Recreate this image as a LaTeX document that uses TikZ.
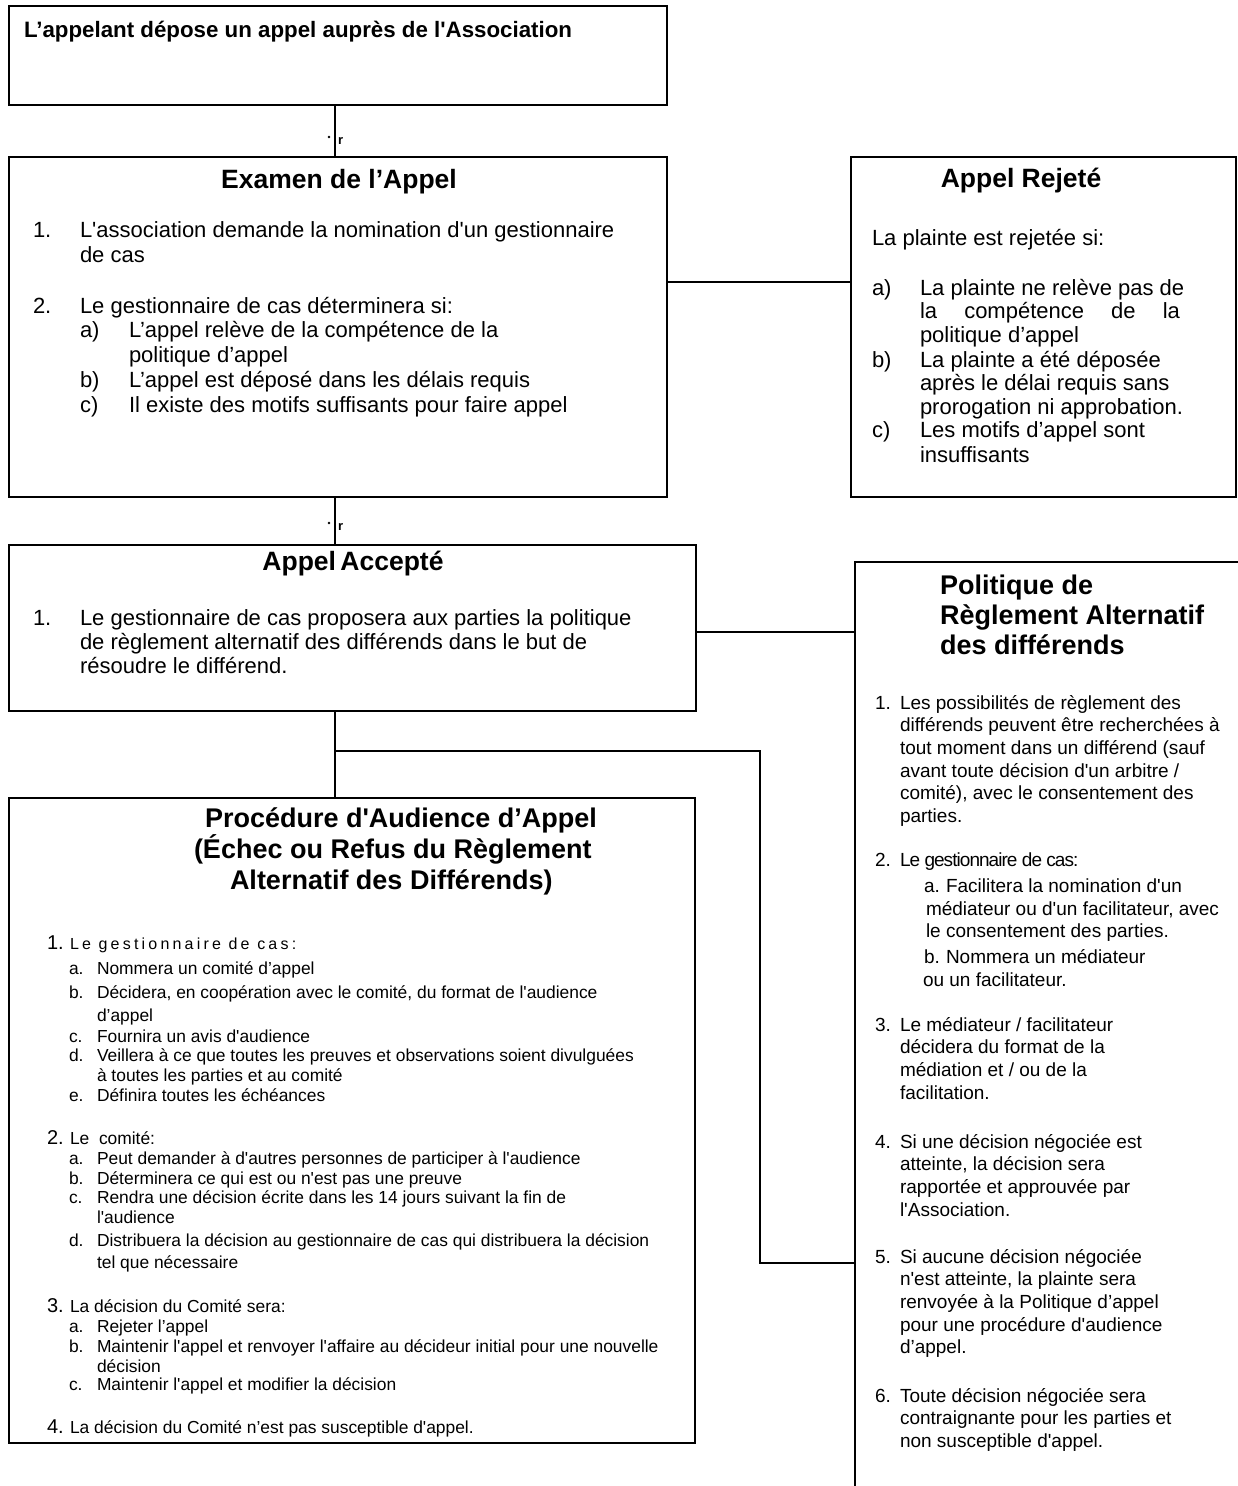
\documentclass[tikz,border=0pt]{standalone}
\usepackage{fontspec}
\newfontfamily\arial{Liberation Sans}
\newfontfamily\arialsp[LetterSpace=20]{Liberation Sans}
\newfontfamily\arialtt[LetterSpace=-5]{Liberation Sans}
\newcommand\fsz[2]{\fontsize{#1}{#2}\selectfont}
\newcommand\ml[1]{\begin{tabular}[t]{@{}l@{}}#1\end{tabular}}
\usetikzlibrary{calc}
\begin{document}
\begin{tikzpicture}[x=1pt,y=-1pt,
  box/.style={draw, inner sep=0pt, outer sep=0pt, anchor=north west, line width=2pt},
  heavy/.style={line width=2.6pt},
  link/.style={line width=2.3pt},
  tx/.style={anchor=base west, inner sep=0pt, outer sep=0pt},
  tc/.style={anchor=base, inner sep=0pt, outer sep=0pt},
  hd/.style={font=\arial\bfseries\fsz{26.5}{30}},
  hdb/.style={font=\arial\bfseries\fsz{27}{30}},
  bA/.style={font=\arial\fsz{22}{25}},
  bB/.style={font=\arial\fsz{22}{23.5}},
  bC/.style={font=\arial\fsz{22}{24}},
  bR/.style={font=\arial\fsz{19}{22.7}},
  bS/.style={font=\arial\fsz{17.4}{20}},
  nS/.style={font=\arial\fsz{20}{20}}]
\fill[white] (0,0) rectangle (1238,1486);
\useasboundingbox (0,0) rectangle (1238,1486);
\clip (0,0) rectangle (1238,1486);

% ---------- boxes ----------
\node[box, minimum width=658pt, minimum height=99pt] (b1) at (9,6) {};
\node[box, minimum width=658pt, minimum height=340pt] (b2) at (9,157) {};
\node[box, minimum width=385pt, minimum height=340pt] (b3) at (851,157) {};
\node[box, heavy, minimum width=687pt, minimum height=166pt] (b4) at (9,545) {};
\node[box, minimum width=420pt, minimum height=1000pt] (b5) at (855,562) {};
\node[box, heavy, minimum width=686pt, minimum height=645pt] (b6) at (9,798) {};

% ---------- connectors ----------
\coordinate (spine) at (335,0);
\coordinate (h1) at (0,282);
\coordinate (h2) at (0,632);
\coordinate (j) at (335,751);
\coordinate (bend) at (760,1263);
\draw[link] (b1.south -| spine) -- (b2.north -| spine);
\draw[link] (b2.south -| spine) -- (b4.north -| spine);
\draw[link] (b4.south -| spine) -- (b6.north -| spine);
\draw[link] (b2.east |- h1) -- (b3.west |- h1);
\draw[link] (b4.east |- h2) -- (b5.west |- h2);
\draw[link] (j) -| (bend) -- (b5.west |- bend);

% small marks
\fill (329,137) circle (1.3);
\node[tx, font=\arial\bfseries\fsz{13}{13}] (m1) at (338,144) {r};
\fill (329,523) circle (1.3);
\node[tx, font=\arial\bfseries\fsz{13}{13}] (m2) at (338,530) {r};

% ---------- box 1 ----------
\node[tx, font=\arial\bfseries\fsz{22.3}{26}] (t1) at (24,37) {L’appelant dépose un appel auprès de l'Association};

% ---------- box 2 ----------
\node[tc, hd] (t2h) at (339,188) {Examen de l’Appel};
\node[tx, bA] (t2n1) at (33,237) {1.};
\node[tx, bA] (t2i1) at (80,237) {\ml{L'association demande la nomination d'un gestionnaire\\de cas}};
\node[tx, bA] (t2n2) at (33,313) {2.};
\node[tx, bA] (t2i2) at (80,313) {Le gestionnaire de cas déterminera si:};
\node[tx, bA] (t2la) at (80,337) {a)};
\node[tx, bA] (t2a) at (129,337) {\ml{L’appel relève de la compétence de la\\politique d’appel}};
\node[tx, bA] (t2lb) at (80,387) {b)};
\node[tx, bA] (t2b) at (129,387) {L’appel est déposé dans les délais requis};
\node[tx, bA] (t2lc) at (80,412) {c)};
\node[tx, bA] (t2c) at (129,412) {Il existe des motifs suffisants pour faire appel};

% ---------- box 3 ----------
\node[tc, hd] (t3h) at (1021,187) {Appel Rejeté};
\node[tx, bA] (t3i) at (872,245) {La plainte est rejetée si:};
\node[tx, bB] (t3la) at (872,295) {a)};
\node[tx, bB] (t3a) at (920,295) {\ml{La plainte ne relève pas de\\\hbox to 260pt{la\hfill compétence\hfill de\hfill la}\\politique d’appel}};
\node[tx, bB] (t3lb) at (872,367) {b)};
\node[tx, bB] (t3b) at (920,367) {\ml{La plainte a été déposée\\après le délai requis sans\\prorogation ni approbation.}};
\node[tx, bB] (t3lc) at (872,437) {c)};
\node[tx, bA] (t3c) at (920,437) {\ml{Les motifs d’appel sont\\insuffisants}};

% ---------- box 4 ----------
\node[tc, hd] (t4h) at (353,570) {Appel\hspace{-3pt} Accepté};
\node[tx, bC] (t4n) at (33,625) {1.};
\node[tx, bC] (t4i) at (80,625) {\ml{Le gestionnaire de cas proposera aux parties la politique\\de règlement alternatif des différends dans le but de\\résoudre le différend.}};

% ---------- box 5 ----------
\node[tx, hdb] (t5h) at (940,594) {\ml{Politique de\\Règlement Alternatif\\des différends}};
\node[tx, bR] (t5n1) at (875,709) {1.};
\node[tx, bR] (t5i1) at (900,709) {\ml{Les possibilités de règlement des\\différends peuvent être recherchées à\\tout moment dans un différend (sauf\\avant toute décision d'un arbitre /\\comité), avec le consentement des\\parties.}};
\node[tx, bR] (t5n2) at (875,866) {2.};
\node[tx, font=\arialtt\fsz{19}{22}] (t5i2) at (900,866) {Le gestionnaire de cas:};
\node[tx, bR] (t5la) at (924,892) {a.};
\node[tx, bR] (t5a1) at (946,892) {Facilitera la nomination d'un};
\node[tx, bR] (t5a2) at (926,915) {\ml{médiateur ou d'un facilitateur, avec\\le consentement des parties.}};
\node[tx, bR] (t5lb) at (924,963) {b.};
\node[tx, bR] (t5b1) at (946,963) {Nommera un médiateur};
\node[tx, bR] (t5b2) at (923,986) {ou un facilitateur.};
\node[tx, bR] (t5n3) at (875,1031) {3.};
\node[tx, bR] (t5i3) at (900,1031) {\ml{Le médiateur / facilitateur\\décidera du format de la\\médiation et / ou de la\\facilitation.}};
\node[tx, bR] (t5n4) at (875,1148) {4.};
\node[tx, bR] (t5i4) at (900,1148) {\ml{Si une décision négociée est\\atteinte, la décision sera\\rapportée et approuvée par\\l'Association.}};
\node[tx, bR] (t5n5) at (875,1263) {5.};
\node[tx, bR] (t5i5) at (900,1263) {\ml{Si aucune décision négociée\\n'est atteinte, la plainte sera\\renvoyée à la Politique d’appel\\pour une procédure d'audience\\d’appel.}};
\node[tx, bR] (t5n6) at (875,1402) {6.};
\node[tx, bR] (t5i6) at (900,1402) {\ml{Toute décision négociée sera\\contraignante pour les parties et\\non susceptible d'appel.}};

% ---------- box 6 ----------
\node[tx, hdb] (t6h1) at (205,827) {Procédure d'Audience d’Appel};
\node[tx, hdb] (t6h2) at (194,858) {(Échec ou Refus du Règlement};
\node[tx, hdb] (t6h3) at (230,889) {Alternatif des Différends)};

\node[tx, nS] (t6n1) at (47,949) {1.};
\node[tx, font=\arialsp\fsz{16}{20}] (t6i1) at (70,949) {Le gestionnaire de cas:};
\node[tx, bS] (t6l1a) at (69,974) {a.};
\node[tx, bS] (t6i1a) at (97,974) {Nommera un comité d’appel};
\node[tx, bS] (t6l1b) at (69,998) {b.};
\node[tx, bS] (t6i1b) at (97,998) {\ml{Décidera, en coopération avec le comité, du format de l'audience\\[3pt]d’appel}};
\node[tx, bS] (t6l1c) at (69,1042) {c.};
\node[tx, bS] (t6i1c) at (97,1042) {Fournira un avis d'audience};
\node[tx, bS] (t6l1d) at (69,1061) {d.};
\node[tx, bS] (t6i1d) at (97,1061) {\ml{Veillera à ce que toutes les preuves et observations soient divulguées\\à toutes les parties et au comité}};
\node[tx, bS] (t6l1e) at (69,1101) {e.};
\node[tx, bS] (t6i1e) at (97,1101) {Définira toutes les échéances};

\node[tx, nS] (t6n2) at (47,1144) {2.};
\node[tx, bS] (t6i2) at (70,1144) {Le \ comité:};
\node[tx, bS] (t6l2a) at (69,1164) {a.};
\node[tx, bS] (t6i2a) at (97,1164) {Peut demander à d'autres personnes de participer à l'audience};
\node[tx, bS] (t6l2b) at (69,1184) {b.};
\node[tx, bS] (t6i2b) at (97,1184) {Déterminera ce qui est ou n'est pas une preuve};
\node[tx, bS] (t6l2c) at (69,1203) {c.};
\node[tx, bS] (t6i2c) at (97,1203) {\ml{Rendra une décision écrite dans les 14 jours suivant la fin de\\l'audience}};
\node[tx, bS] (t6l2d) at (69,1246) {d.};
\node[tx, bS] (t6i2d) at (97,1246) {\ml{Distribuera la décision au gestionnaire de cas qui distribuera la décision\\[2pt]tel que nécessaire}};

\node[tx, nS] (t6n3) at (47,1312) {3.};
\node[tx, bS] (t6i3) at (70,1312) {La décision du Comité sera:};
\node[tx, bS] (t6l3a) at (69,1332) {a.};
\node[tx, bS] (t6i3a) at (97,1332) {Rejeter l’appel};
\node[tx, bS] (t6l3b) at (69,1352) {b.};
\node[tx, bS] (t6i3b) at (97,1352) {\ml{Maintenir l'appel et renvoyer l'affaire au décideur initial pour une nouvelle\\décision}};
\node[tx, bS] (t6l3c) at (69,1390) {c.};
\node[tx, bS] (t6i3c) at (97,1390) {Maintenir l'appel et modifier la décision};

\node[tx, nS] (t6n4) at (47,1433) {4.};
\node[tx, bS] (t6i4) at (70,1433) {La décision du Comité n’est pas susceptible d'appel.};
\end{tikzpicture}
\end{document}
